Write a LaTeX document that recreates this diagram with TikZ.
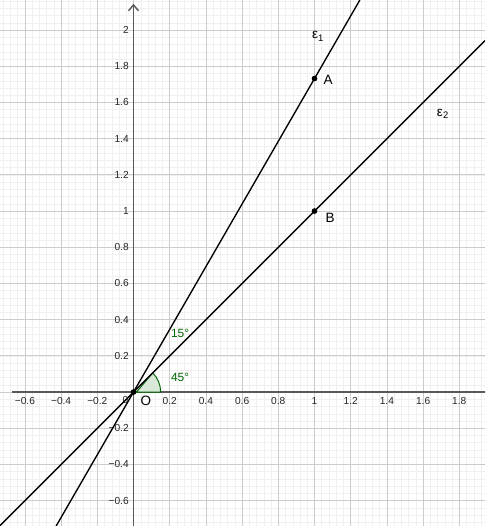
\documentclass[tikz,border=0pt]{standalone}
\usepackage{fontspec}
\setsansfont{Liberation Sans}
\usetikzlibrary{arrows.meta}
\definecolor{anglegreen}{RGB}{0,100,0}

\begin{document}
\begin{tikzpicture}[
  x=4cm, y=4cm,
  minorgrid/.style={draw=black!6, line width=0.3pt},
  majorgrid/.style={draw=black!20, line width=0.5pt},
  axis/.style={draw=black!65, line width=0.9pt},
  line/.style={draw=black, line width=0.85pt},
  tick/.style={font=\sffamily\fontsize{6.4}{7}\selectfont, inner sep=0pt, text=black!85},
  pt/.style={circle, fill=black, inner sep=0pt, minimum size=3.4pt},
  lbl/.style={font=\sffamily\fontsize{8.5}{9}\selectfont, inner sep=0pt},
  anglelbl/.style={font=\sffamily\fontsize{7.5}{9}\selectfont, text=anglegreen, inner sep=0pt},
  sector/.style={draw=anglegreen, fill=anglegreen!15, line width=0.6pt}
]
  \useasboundingbox (-0.7376,-0.740) rectangle (1.942,2.166);
  \clip (-0.7376,-0.740) rectangle (1.942,2.166);

  % grid
  \foreach \i in {-19,...,49}
    \draw[minorgrid] (\i*0.04,-0.76) -- (\i*0.04,2.2);
  \foreach \j in {-19,...,55}
    \draw[minorgrid] (-0.76,\j*0.04) -- (1.96,\j*0.04);
  \foreach \i in {-4,...,9}
    \draw[majorgrid] (\i*0.2,-0.76) -- (\i*0.2,2.2);
  \foreach \j in {-4,...,10}
    \draw[majorgrid] (-0.76,\j*0.2) -- (1.96,\j*0.2);

  % axes
  \coordinate (xl) at (-0.67,0);
  \coordinate (xr) at (1.96,0);
  \coordinate (yb) at (0,-0.76);
  \coordinate (yt) at (0,2.145);
  \draw[axis] (xl) -- (xr);
  \draw[axis, -{Straight Barb[length=1.3mm, width=2.2mm]}] (yb) -- (yt);

  \foreach \i/\t in {-3/−0.6, -2/−0.4, -1/−0.2, 1/0.2, 2/0.4, 3/0.6, 4/0.8, 5/1, 6/1.2, 7/1.4, 8/1.6, 9/1.8}
    \node[tick, anchor=base] (xt\i) at (0.2*\i,-0.071) {\t};
  \foreach \j/\t in {-3/−0.6, -2/−0.4, -1/−0.2, 1/0.2, 2/0.4, 3/0.6, 4/0.8, 5/1, 6/1.2, 7/1.4, 8/1.6, 9/1.8, 10/2}
    \node[tick, anchor=base east] (yt\j) at (-0.025,0.2*\j-0.019) {\t};
  \node[tick, anchor=base] (zero) at (-0.045,-0.064) {0};

  % points
  \node[pt] (O) at (0,0) {};
  \node[pt] (A) at (1,1.7321) {};
  \node[pt] (B) at (1,1) {};

  % angle
  \draw[sector] (O) -- ++(0.15,0) arc[start angle=0, end angle=45, radius=0.6cm] -- cycle;

  % lines
  \coordinate (e1lo) at (-0.4273,-0.74);
  \coordinate (e1hi) at (1.2506,2.166);
  \coordinate (e2lo) at (-0.74,-0.74);
  \coordinate (e2hi) at (1.942,1.942);
  \draw[line] (e1lo) -- (e1hi);
  \draw[line] (e2lo) -- (e2hi);
  \node[pt] at (O) {};
  \node[pt] at (A) {};
  \node[pt] at (B) {};

  % labels
  \node[lbl] (Alab) at (1.075,1.724) {A};
  \node[lbl] (Blab) at (1.086,0.961) {B};
  \node[lbl] (Olab) at (0.068,-0.05) {O};
  \node[lbl] (e1lab) at (1.02,1.965) {ε\textsubscript{1}};
  \node[lbl] (e2lab) at (1.71,1.535) {ε\textsubscript{2}};
  \node[anglelbl] (a45) at (0.257,0.083) {45°};
  \node[anglelbl] (a15) at (0.257,0.326) {15°};
\end{tikzpicture}
\end{document}
